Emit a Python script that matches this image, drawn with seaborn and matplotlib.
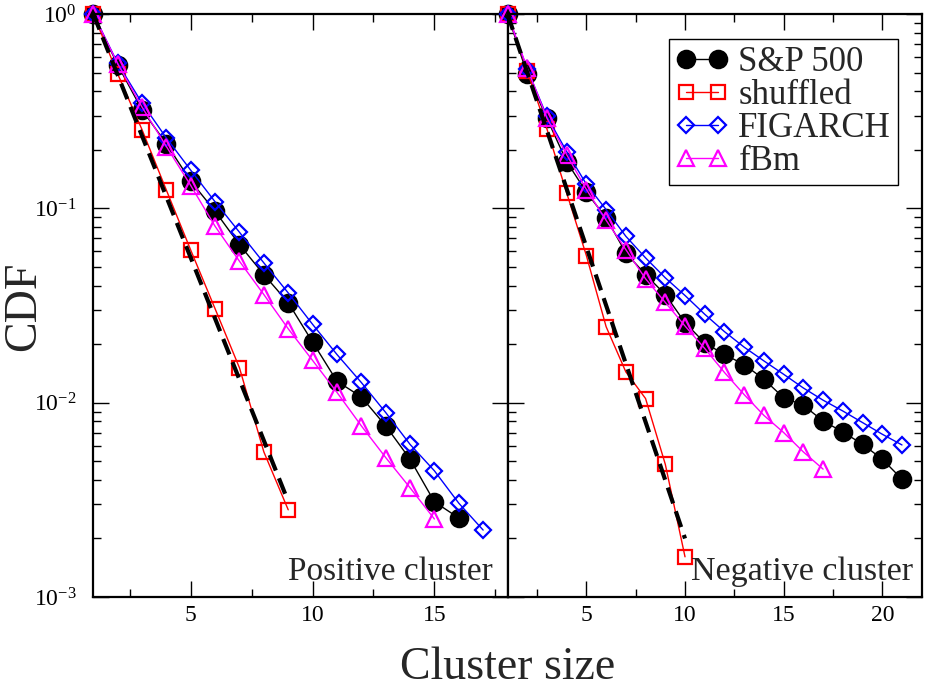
import matplotlib
matplotlib.use("Agg")
import matplotlib.pyplot as plt
import seaborn as sns
from matplotlib.ticker import MultipleLocator, LogLocator, NullFormatter

# cluster sizes
x_pos = list(range(1, 18))
x_neg = list(range(1, 22))

# positive clusters (left panel)
sp_pos = [1.0, 0.547, 0.321, 0.215, 0.138, 0.0966, 0.065, 0.0456, 0.0327,
          0.0205, 0.0129, 0.0107, 0.0076, 0.00512, 0.00309, 0.00255]
shuf_pos = [1.0, 0.492, 0.254, 0.124, 0.0609, 0.0304, 0.0151, 0.00558, 0.00281]
figarch_pos = [1.0, 0.558, 0.348, 0.23, 0.157, 0.108, 0.0753, 0.0524, 0.0367,
               0.0253, 0.0177, 0.0127, 0.0089, 0.0061, 0.00446, 0.00304, 0.00221]
fbm_pos = [1.0, 0.555, 0.332, 0.208, 0.131, 0.0808, 0.0534, 0.036, 0.024,
           0.0165, 0.0113, 0.0076, 0.00522, 0.00365, 0.00252]
fit_pos_x = [1, 9]
fit_pos_y = [1.0, 0.0031]

# negative clusters (right panel)
sp_neg = [1.0, 0.49, 0.29, 0.174, 0.121, 0.0893, 0.059, 0.0456, 0.036, 0.0258,
          0.0203, 0.0177, 0.0157, 0.0132, 0.0106, 0.0097, 0.00805, 0.00707,
          0.00611, 0.00512, 0.00404]
shuf_neg = [1.0, 0.51, 0.256, 0.12, 0.0571, 0.0246, 0.0144, 0.0105, 0.00482, 0.00161]
figarch_neg = [1.0, 0.52, 0.297, 0.196, 0.133, 0.0985, 0.0718, 0.0556, 0.0439,
               0.0356, 0.0285, 0.0232, 0.0193, 0.0164, 0.014, 0.0119, 0.0103,
               0.00906, 0.0079, 0.00688, 0.00606]
fbm_neg = [1.0, 0.526, 0.291, 0.189, 0.125, 0.0868, 0.0613, 0.0434, 0.0328,
           0.0248, 0.019, 0.0143, 0.011, 0.0086, 0.00702, 0.00558, 0.00455]
fit_neg_x = [1, 10]
fit_neg_y = [1.0, 0.002]

labels = ["S&P 500", "shuffled", "FIGARCH", "fBm"]

sns.set_theme(style="ticks")
plt.rcParams["font.family"] = ["Liberation Serif", "DejaVu Serif"]
plt.rcParams["mathtext.fontset"] = "custom"
plt.rcParams["mathtext.rm"] = "Liberation Serif"

fig = plt.figure(figsize=(9.3, 6.88), dpi=100)
ax1 = fig.add_axes([93.3 / 930, 91 / 688, 414.2 / 930, 583 / 688])
ax2 = fig.add_axes([507.5 / 930, 91 / 688, 414.2 / 930, 583 / 688])


def draw(ax, y, color, marker, ms, filled=False):
    xs = list(range(1, len(y) + 1))
    sns.lineplot(x=xs, y=y, ax=ax, color=color, linewidth=1,
                 marker=marker, markersize=ms,
                 markerfacecolor=color if filled else "none",
                 markeredgecolor=color, markeredgewidth=1.6,
                 clip_on=False, legend=False)


for ax, data, fx, fy, xmax in [
    (ax1, [sp_pos, shuf_pos, figarch_pos, fbm_pos], fit_pos_x, fit_pos_y, 18),
    (ax2, [sp_neg, shuf_neg, figarch_neg, fbm_neg], fit_neg_x, fit_neg_y, 22),
]:
    draw(ax, data[0], "black", "o", 12.5, filled=True)
    draw(ax, data[1], "red", "s", 9.5)
    draw(ax, data[2], "blue", "D", 8.2)
    draw(ax, data[3], "magenta", "^", 12)
    sns.lineplot(x=fx, y=fy, ax=ax, color="black", linewidth=3,
                 linestyle=(0, (4, 2)), legend=False)
    ax.set_yscale("log")
    ax.set_ylim(1e-3, 1)
    ax.set_xlim(1, xmax)
    ax.xaxis.set_major_locator(MultipleLocator(5))
    ax.xaxis.set_minor_locator(MultipleLocator(2.5))
    ax.yaxis.set_major_locator(LogLocator(base=10))
    ax.yaxis.set_minor_locator(LogLocator(base=10, subs=range(2, 10)))
    ax.yaxis.set_minor_formatter(NullFormatter())
    ax.tick_params(which="both", direction="in", top=True, right=True,
                   width=1, colors="black", labelsize=17)
    ax.tick_params(which="major", length=11.5)
    ax.tick_params(which="minor", length=6)
    ax.tick_params(axis="x", pad=6)
    ax.tick_params(axis="y", pad=12)
    for s in ax.spines.values():
        s.set_linewidth(1.6)
        s.set_color("black")
    ax.set_xlabel("")
    ax.set_ylabel("")

ax1.tick_params(axis="y", which="minor", right=False)
ax2.tick_params(axis="y", labelleft=False)

ax1.text(0.965, 0.029, "Positive cluster", transform=ax1.transAxes,
         ha="right", va="baseline", fontsize=24)
ax2.text(0.979, 0.029, "Negative cluster", transform=ax2.transAxes,
         ha="right", va="baseline", fontsize=24.5)

handles = ax2.get_lines()[:4]
leg = ax2.legend(handles, labels, loc="upper right",
                 bbox_to_anchor=(0.943, 0.957), borderaxespad=0,
                 fontsize=25, numpoints=2, handlelength=1.5,
                 handletextpad=0.3, labelspacing=0.0, borderpad=0.2,
                 fancybox=False, framealpha=1)
leg.get_frame().set_edgecolor("black")
leg.get_frame().set_linewidth(1.0)

fig.text(0.546, 0.013, "Cluster size", ha="center", va="baseline", fontsize=33)
fig.text(24 / 930, 0.555, "CDF", ha="center", va="center", rotation=90,
         fontsize=33)

fig.savefig("out.png", dpi=100)
